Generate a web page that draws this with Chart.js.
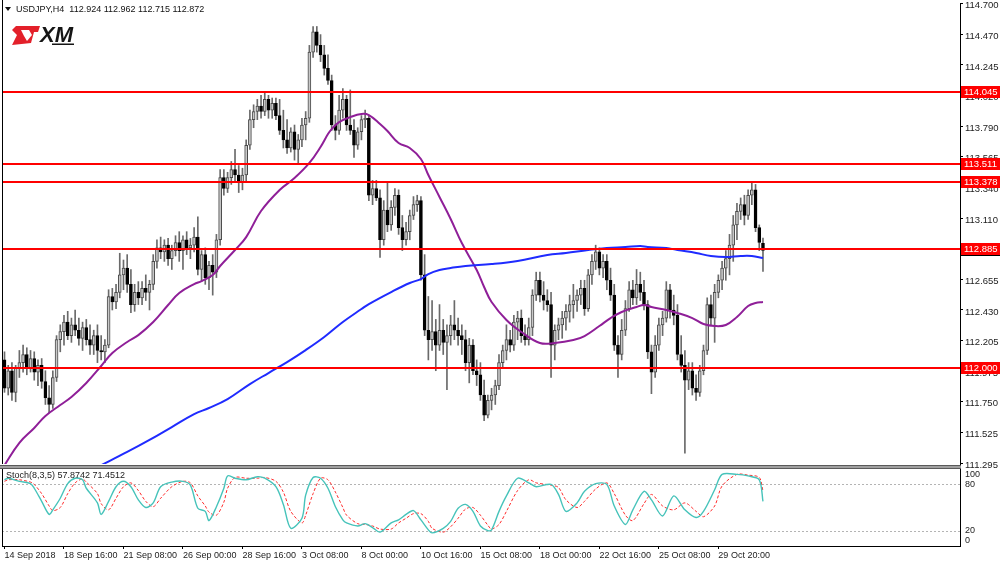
<!DOCTYPE html>
<html><head><meta charset="utf-8">
<script src="https://cdn.jsdelivr.net/npm/chart.js@4.4.1/dist/chart.umd.min.js"></script>
<style>
html,body{margin:0;padding:0;background:#fff;}
#wrap{position:relative;width:1000px;height:566px;overflow:hidden;background:#fff;}
#main{position:absolute;left:0;top:0;}
#stoch{position:absolute;left:0;top:464px;}
</style></head><body>
<div id="wrap"><canvas id="main" width="1000" height="472"></canvas><canvas id="stoch" width="1000" height="102"></canvas></div>
<script>
const symbolTitle = 'USDJPY,H4';
const opens = [
112.06,111.85,111.98,111.82,112.00,112.04,112.10,112.00,112.07,111.97,
112.02,111.90,111.78,111.73,111.93,112.21,112.27,112.34,112.24,112.32,
112.28,112.22,112.30,112.21,112.17,112.24,112.13,112.12,112.17,112.53,
112.49,112.56,112.69,112.74,112.62,112.47,112.56,112.52,112.59,112.56,
112.62,112.79,112.89,112.86,112.91,112.81,112.87,112.93,112.87,112.95,
112.89,112.91,112.97,112.73,112.84,112.67,112.76,112.71,112.95,113.41,
113.33,113.41,113.47,113.43,113.38,113.43,113.65,113.84,113.90,113.94,
113.90,113.99,113.91,113.96,113.87,113.76,113.69,113.63,113.75,113.62,
113.69,113.80,113.85,114.34,114.49,114.39,114.32,114.22,114.13,113.80,
113.76,113.91,113.99,113.80,113.76,113.65,113.75,113.84,113.85,113.28,
113.33,113.26,112.95,113.17,113.06,113.19,113.28,113.04,112.95,113.01,
113.13,113.21,113.24,112.69,112.28,112.21,112.27,112.17,112.28,112.19,
112.24,112.32,112.28,112.24,112.21,112.04,112.17,111.98,111.95,111.80,
111.65,111.76,111.80,111.87,112.04,112.13,112.21,112.17,112.34,112.37,
112.24,112.21,112.30,112.54,112.65,112.54,112.50,112.47,112.17,112.28,
112.32,112.37,112.42,112.47,112.50,112.54,112.59,112.44,112.69,112.79,
112.86,112.74,112.79,112.65,112.54,112.17,112.10,112.28,112.44,112.58,
112.52,112.62,112.56,112.47,112.12,111.97,112.17,112.32,112.37,112.58,
112.43,112.39,112.10,112.02,111.91,111.98,111.85,111.82,111.98,112.13,
112.47,112.37,112.56,112.65,112.74,112.81,112.91,113.06,113.16,113.21,
113.13,113.28,113.32,113.04,112.924];
const highs = [
112.12,112.02,112.04,112.02,112.13,112.17,112.15,112.13,112.12,112.06,
112.07,111.98,111.87,111.98,112.24,112.32,112.39,112.42,112.37,112.43,
112.37,112.34,112.36,112.32,112.28,112.32,112.24,112.21,112.58,112.59,
112.62,112.85,112.80,112.84,112.73,112.62,112.64,112.64,112.69,112.65,
112.84,112.95,112.97,112.95,112.96,112.91,112.98,113.01,112.98,113.01,
112.96,113.04,113.12,112.87,112.89,112.79,112.84,112.99,113.47,113.47,
113.45,113.53,113.62,113.50,113.48,113.69,113.91,113.95,113.99,114.02,
114.04,114.02,114.00,114.00,113.99,113.91,113.84,113.78,113.80,113.73,
113.85,113.90,114.39,114.53,114.53,114.47,114.39,114.32,114.17,113.87,
114.02,114.07,114.02,114.06,113.84,113.78,113.87,113.91,113.87,113.39,
113.39,113.32,113.24,113.37,113.24,113.33,113.32,113.13,113.08,113.17,
113.27,113.28,113.27,112.84,112.53,112.50,112.36,112.47,112.36,112.32,
112.39,112.50,112.37,112.32,112.28,112.22,112.21,112.06,112.04,111.91,
111.80,111.85,111.91,112.10,112.17,112.32,112.28,112.39,112.42,112.43,
112.32,112.37,112.58,112.71,112.71,112.64,112.58,112.56,112.32,112.37,
112.42,112.47,112.54,112.62,112.58,112.65,112.65,112.73,112.84,112.91,
112.89,112.84,112.84,112.74,112.62,112.24,112.36,112.50,112.64,112.65,
112.73,112.71,112.65,112.50,112.17,112.24,112.37,112.42,112.64,112.62,
112.54,112.47,112.24,112.13,112.04,112.04,111.95,112.02,112.17,112.52,
112.54,112.62,112.69,112.79,112.87,112.99,113.13,113.22,113.26,113.28,
113.32,113.37,113.36,113.06,112.962];
const lows = [
111.82,111.80,111.76,111.75,111.93,111.97,111.95,111.97,111.91,111.87,
111.85,111.73,111.67,111.70,111.90,112.12,112.17,112.21,112.19,112.24,
112.17,112.13,112.17,112.10,112.10,112.04,112.06,112.04,112.15,112.43,
112.44,112.52,112.58,112.56,112.41,112.42,112.47,112.47,112.50,112.43,
112.58,112.74,112.81,112.79,112.76,112.73,112.83,112.79,112.73,112.84,
112.81,112.86,112.69,112.64,112.62,112.58,112.54,112.67,112.91,113.28,
113.30,113.36,113.38,113.30,113.32,113.38,113.62,113.78,113.84,113.85,
113.87,113.85,113.85,113.84,113.73,113.63,113.59,113.60,113.54,113.52,
113.64,113.69,113.82,114.30,114.34,114.27,114.17,114.10,113.76,113.69,
113.73,113.85,113.76,113.73,113.56,113.62,113.69,113.78,113.24,113.21,
113.24,112.82,112.91,113.01,113.02,113.13,112.99,112.87,112.91,112.95,
113.10,113.16,112.65,112.24,112.06,112.13,111.98,112.13,112.10,111.84,
112.17,112.21,112.17,112.10,111.98,111.89,111.95,111.87,111.76,111.61,
111.63,111.69,111.73,111.84,112.00,112.06,112.12,112.13,112.21,112.19,
112.17,112.17,112.24,112.50,112.49,112.43,112.42,111.93,112.06,112.21,
112.22,112.28,112.34,112.37,112.42,112.47,112.39,112.42,112.62,112.73,
112.69,112.67,112.58,112.50,112.13,111.93,112.06,112.24,112.42,112.47,
112.47,112.50,112.43,112.07,111.81,111.93,112.13,112.24,112.34,112.37,
112.32,112.06,111.97,111.37,111.84,111.80,111.76,111.79,111.95,112.10,
112.32,112.19,112.52,112.58,112.65,112.69,112.79,112.95,113.10,113.06,
113.10,113.21,113.01,112.87,112.715];
const closes = [
111.85,111.98,111.82,112.00,112.04,112.10,112.00,112.07,111.97,112.02,
111.90,111.78,111.73,111.93,112.21,112.27,112.34,112.24,112.32,112.28,
112.22,112.30,112.21,112.17,112.24,112.13,112.12,112.17,112.53,112.49,
112.56,112.69,112.74,112.62,112.47,112.56,112.52,112.59,112.56,112.62,
112.79,112.89,112.86,112.91,112.81,112.87,112.93,112.87,112.95,112.89,
112.91,112.97,112.73,112.84,112.67,112.76,112.71,112.95,113.41,113.33,
113.41,113.47,113.43,113.38,113.43,113.65,113.84,113.90,113.94,113.90,
113.99,113.91,113.96,113.87,113.76,113.69,113.63,113.75,113.62,113.69,
113.80,113.85,114.34,114.49,114.39,114.32,114.22,114.13,113.80,113.76,
113.91,113.99,113.80,113.76,113.65,113.75,113.84,113.85,113.28,113.33,
113.26,112.95,113.17,113.06,113.19,113.28,113.04,112.95,113.01,113.13,
113.21,113.24,112.69,112.28,112.21,112.27,112.17,112.28,112.19,112.24,
112.32,112.28,112.24,112.21,112.04,112.17,111.98,111.95,111.80,111.65,
111.76,111.80,111.87,112.04,112.13,112.21,112.17,112.34,112.37,112.24,
112.21,112.30,112.54,112.65,112.54,112.50,112.47,112.17,112.28,112.32,
112.37,112.42,112.47,112.50,112.54,112.59,112.44,112.69,112.79,112.86,
112.74,112.79,112.65,112.54,112.17,112.10,112.28,112.44,112.58,112.52,
112.62,112.56,112.47,112.12,111.97,112.17,112.32,112.37,112.58,112.43,
112.39,112.10,112.02,111.91,111.98,111.85,111.82,111.98,112.13,112.47,
112.37,112.56,112.65,112.74,112.81,112.91,113.06,113.16,113.21,113.13,
113.28,113.32,113.04,112.93,112.872];

const purpleIdx = [0,4,8,11,15,18,22,26,29,33,36,40,44,47,51,53,56,58,62,65,69,74,78,82,85,87,88,90,93,96,98,101,103,106,109,112,114,117,120,123,127,129,131,135,139,144,148,153,156,160,163,166,170,172,174,178,181,185,188,191,194,197,200,202,204];
const purpleVal = [111.28,111.446,111.556,111.645,111.726,111.785,111.889,112.015,112.111,112.193,112.244,112.341,112.467,112.556,112.622,112.644,112.689,112.756,112.874,112.970,113.163,113.319,113.407,113.519,113.637,113.733,113.770,113.822,113.859,113.882,113.874,113.808,113.756,113.667,113.630,113.548,113.430,113.267,113.104,112.926,112.726,112.600,112.489,112.356,112.267,112.185,112.185,112.207,112.237,112.311,112.370,112.415,112.452,112.467,112.452,112.430,112.408,112.370,112.326,112.311,112.319,112.378,112.459,112.482,112.489];
const blueIdx = [26,33,39,45,51,55,60,66,71,76,81,86,91,96,98,104,109,112,114,117,120,124,131,138,146,151,157,162,167,171,173,178,181,186,190,194,198,201,204];
const blueVal = [111.28,111.378,111.467,111.563,111.659,111.704,111.770,111.881,111.963,112.044,112.133,112.230,112.341,112.437,112.474,112.563,112.630,112.659,112.696,112.726,112.741,112.756,112.770,112.793,112.837,112.852,112.874,112.889,112.896,112.904,112.896,112.889,112.874,112.852,112.830,112.822,112.830,112.830,112.815];

const stochIdx = [0,1,4,7,8,10,12,13,15,17,19,21,22,25,26,28,30,32,34,36,38,40,42,45,48,50,52,54,55,57,59,60,62,65,68,70,73,75,77,80,81,83,85,87,89,91,92,95,97,99,101,104,106,108,110,112,114,115,118,120,122,124,126,128,130,131,133,135,138,141,143,147,149,151,154,156,159,162,164,167,169,172,174,177,180,183,186,188,191,193,197,200,203,204];
const stochK = [86,88,84,81,75,58,41,47,62,81,88,86,75,56,41,58,77,84,77,60,50,56,77,83,84,79,49,45,33,51,75,91,88,86,90,88,77,54,23,36,66,89,88,75,51,34,30,26,29,24,18,30,34,41,46,34,21,17,23,32,49,54,45,26,20,21,45,65,88,82,77,80,67,45,56,71,81,80,52,28,47,71,60,39,65,47,37,45,73,93,93,91,86,57.8742];
const stochD = [84,86,86,83,80,68,52,46,50,68,82,87,83,68,55,47,62,77,82,72,58,51,62,77,84,82,65,52,44,40,57,75,89,88,88,89,84,70,45,30,40,68,88,86,70,50,40,29,28,26,22,22,30,36,42,42,32,23,18,25,36,48,50,40,27,22,28,45,72,86,82,79,76,60,50,58,74,82,68,40,33,55,67,52,47,56,45,38,52,78,93,92,89,71.4512];

const levels = [114.045, 113.511, 113.378, 112.885, 112.000];
const yTicks = [114.700,114.470,114.245,114.020,113.790,113.565,113.340,113.110,112.880,112.655,112.430,112.205,111.975,111.750,111.525,111.295];
const stochTicks = [0,20,80,100];
const xTickIdx = [0,16,32,48,64,80,96,112,128,144,160,176,192];
const xTickLabels = ['14 Sep 2018','18 Sep 16:00','21 Sep 08:00','26 Sep 00:00','28 Sep 16:00','3 Oct 08:00','8 Oct 00:00','10 Oct 16:00','15 Oct 08:00','18 Oct 00:00','22 Oct 16:00','25 Oct 08:00','29 Oct 20:00'];

const FONT = "'Liberation Sans', Arial, sans-serif";
const xMin = -0.672, xMax = 256.99;
const last = closes.length - 1;
const idx = closes.map((_, i) => i);
const wickData = idx.map(i => ({x: i, y: [lows[i], highs[i]]}));
const bodyData = idx.map(i => ({x: i, y: [opens[i], closes[i]]}));

const mainPlugin = {
  id: 'mainDeco',
  afterDatasetsDraw(chart) {
    const {ctx, chartArea: a, scales: {y}} = chart;
    ctx.save();
    ctx.strokeStyle = '#ff0000'; ctx.lineWidth = 2;
    levels.forEach(v => {
      const py = Math.round(y.getPixelForValue(v));
      ctx.beginPath(); ctx.moveTo(a.left, py); ctx.lineTo(a.right, py); ctx.stroke();
    });
    ctx.restore();
  },
  afterDraw(chart) {
    const {ctx, chartArea: a, scales: {y}} = chart;
    ctx.save();
    const box = (v, bg, txt) => {
      const py = Math.round(y.getPixelForValue(v));
      ctx.fillStyle = bg; ctx.fillRect(a.right + 1, py - 6, 39, 12);
      ctx.fillStyle = '#fff'; ctx.font = `9.5px ${FONT}`; ctx.textBaseline = 'middle'; ctx.textAlign = 'left';
      ctx.fillText(txt, a.right + 4, py + 0.5);
    };
    box(closes[last], '#000', closes[last].toFixed(3));
    levels.forEach(v => box(v, '#ff0000', v.toFixed(3)));
    // left frame
    ctx.strokeStyle = '#000'; ctx.lineWidth = 1;
    ctx.beginPath(); ctx.moveTo(2.5, 0); ctx.lineTo(2.5, a.bottom); ctx.stroke();
    // title
    ctx.fillStyle = '#111';
    ctx.beginPath(); ctx.moveTo(5, 7); ctx.lineTo(11, 7); ctx.lineTo(8, 11); ctx.closePath(); ctx.fill();
    ctx.font = `9px ${FONT}`; ctx.textBaseline = 'middle'; ctx.textAlign = 'left';
    ctx.fillText(`${symbolTitle}  ${opens[last].toFixed(3)} ${highs[last].toFixed(3)} ${lows[last].toFixed(3)} ${closes[last].toFixed(3)}`, 16, 9.5);
    // XM logo
    ctx.fillStyle = '#e3202a';
    ctx.beginPath();
    ctx.moveTo(16, 26); ctx.lineTo(40, 26); ctx.lineTo(38, 32); ctx.lineTo(34, 32);
    ctx.lineTo(31, 43); ctx.lineTo(12, 45); ctx.lineTo(17, 35); ctx.lineTo(12, 30); ctx.closePath(); ctx.fill();
    ctx.fillStyle = '#fff';
    ctx.beginPath(); ctx.moveTo(21, 30); ctx.lineTo(29, 30); ctx.lineTo(32, 35); ctx.lineTo(27, 41); ctx.lineTo(24, 36); ctx.closePath(); ctx.fill();
    ctx.fillStyle = '#151515';
    ctx.font = `italic bold 22px ${FONT}`; ctx.textBaseline = 'alphabetic';
    ctx.fillText('XM', 40, 42);
    ctx.fillRect(52, 43.5, 22, 1.5);
    ctx.restore();
  }
};

new Chart(document.getElementById('main'), {
  type: 'bar',
  data: { datasets: [
    {type: 'line', label: 'MA slow', data: blueIdx.map((x, k) => ({x, y: blueVal[k]})), borderColor: '#1f2bff', borderWidth: 2, pointRadius: 0, tension: 0.4, order: 0},
    {type: 'line', label: 'MA fast', data: purpleIdx.map((x, k) => ({x, y: purpleVal[k]})), borderColor: '#8f1f98', borderWidth: 2, pointRadius: 0, tension: 0.4, order: 0},
    {type: 'bar', label: 'body', data: bodyData, grouped: false, barThickness: 3, minBarLength: 1, borderSkipped: false,
      backgroundColor: c => closes[c.dataIndex] >= opens[c.dataIndex] ? '#c8c8c8' : '#000000',
      borderColor: c => closes[c.dataIndex] >= opens[c.dataIndex] ? '#4a4a4a' : '#000000', borderWidth: 1, order: 1},
    {type: 'bar', label: 'wick', data: wickData, grouped: false, barThickness: 1, borderSkipped: false, backgroundColor: '#6a6a6a', borderWidth: 0, order: 2}
  ]},
  options: {
    responsive: false, animation: false, devicePixelRatio: 1,
    layout: {padding: {left: 2, right: 0, top: 3, bottom: 8}},
    plugins: {legend: {display: false}, tooltip: {enabled: false}},
    scales: {
      x: {type: 'linear', min: xMin, max: xMax, display: false, offset: false},
      y: {
        position: 'right', min: 111.289, max: 114.704,
        afterBuildTicks: a => { a.ticks = yTicks.map(v => ({value: v})); },
        afterFit: a => { a.width = 40; a.paddingTop = 0; a.paddingBottom = 0; },
        ticks: {callback: v => Number(v).toFixed(3), font: {family: FONT, size: 9.5}, color: '#222', padding: 2, autoSkip: false, labelOffset: 2},
        grid: {display: true, drawOnChartArea: false, drawTicks: true, tickLength: 3, tickColor: '#000', color: '#000'},
        border: {display: true, color: '#000', width: 1}
      }
    }
  },
  plugins: [mainPlugin]
});

const stochPlugin = {
  id: 'stochDeco',
  beforeDatasetsDraw(chart) {
    const {ctx, chartArea: a, scales: {y}} = chart;
    ctx.save();
    ctx.strokeStyle = '#b4b4b4'; ctx.lineWidth = 1; ctx.setLineDash([2, 2]);
    [20, 80].forEach(v => {
      const py = Math.round(y.getPixelForValue(v)) + 0.5;
      ctx.beginPath(); ctx.moveTo(a.left, py); ctx.lineTo(a.right, py); ctx.stroke();
    });
    ctx.restore();
  },
  afterDraw(chart) {
    const {ctx, chartArea: a, scales: {y}} = chart;
    ctx.save();
    ctx.fillStyle = '#a0a0a0'; ctx.fillRect(0, 1, a.right + 1, 4);
    ctx.fillStyle = '#5a5a5a'; ctx.fillRect(0, 1, a.right + 1, 1); ctx.fillRect(0, 4, a.right + 1, 1);
    ctx.strokeStyle = '#000'; ctx.lineWidth = 1;
    ctx.beginPath(); ctx.moveTo(2.5, 5); ctx.lineTo(2.5, a.bottom); ctx.stroke();
    ctx.fillStyle = '#222'; ctx.font = `9px ${FONT}`; ctx.textBaseline = 'middle'; ctx.textAlign = 'left';
    ctx.fillText(`Stoch(8,3,5) ${stochK[stochK.length - 1].toFixed(4)} ${stochD[stochD.length - 1].toFixed(4)}`, 6, 12);
    // level labels kept inside the panel, as the terminal does
    stochTicks.forEach(v => {
      const py = Math.min(Math.max(y.getPixelForValue(v), a.top + 6), a.bottom - 5);
      ctx.fillText(String(v), a.right + 5, py);
    });
    ctx.restore();
  }
};

new Chart(document.getElementById('stoch'), {
  type: 'line',
  data: { datasets: [
    {label: '%K', data: stochIdx.map((x, k) => ({x, y: stochK[k]})), borderColor: '#46c3ba', borderWidth: 1.4, pointRadius: 0, tension: 0.3, order: 0},
    {label: '%D', data: stochIdx.map((x, k) => ({x, y: stochD[k]})), borderColor: '#ff2b2b', borderWidth: 1, borderDash: [3, 2], pointRadius: 0, tension: 0.3, order: 1}
  ]},
  options: {
    responsive: false, animation: false, devicePixelRatio: 1,
    layout: {padding: {left: 2, right: 0, top: 5, bottom: 0}},
    plugins: {legend: {display: false}, tooltip: {enabled: false}},
    scales: {
      x: {
        type: 'linear', min: xMin, max: xMax, offset: false,
        afterBuildTicks: a => { a.ticks = xTickIdx.map(v => ({value: v})); },
        afterFit: a => { a.height = 20; a.paddingLeft = 0; a.paddingRight = 0; },
        ticks: {callback: v => { const k = xTickIdx.indexOf(v); return k >= 0 ? xTickLabels[k] : ''; }, align: 'start', autoSkip: false, maxRotation: 0, minRotation: 0, padding: 1, font: {family: FONT, size: 9}, color: '#222'},
        grid: {display: true, drawOnChartArea: false, drawTicks: true, tickLength: 3, tickColor: '#000', color: '#000'},
        border: {display: true, color: '#000', width: 1}
      },
      y: {
        position: 'right', min: 0, max: 100,
        afterBuildTicks: a => { a.ticks = stochTicks.map(v => ({value: v})); },
        afterFit: a => { a.width = 40; a.paddingTop = 0; a.paddingBottom = 0; },
        ticks: {display: false},
        grid: {display: true, drawOnChartArea: false, drawTicks: false, tickLength: 0, color: '#000'},
        border: {display: true, color: '#000', width: 1}
      }
    }
  },
  plugins: [stochPlugin]
});
</script>
</body></html>
